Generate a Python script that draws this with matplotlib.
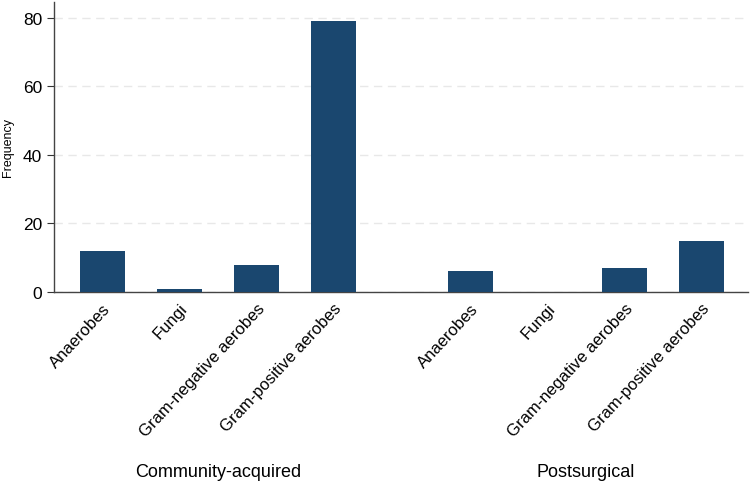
import numpy as np
import matplotlib.pyplot as plt

plt.rcParams['font.family'] = ['Liberation Sans', 'DejaVu Sans']

categories = ['Anaerobes', 'Fungi', 'Gram-negative aerobes', 'Gram-positive aerobes']
groups = ['Community-acquired', 'Postsurgical']
community = [12, 1, 8, 79]
postsurgical = [6, 0, 7, 15]
yticks = [0, 20, 40, 60, 80]

bar_color = '#1a476f'
gap = 1.78

fig = plt.figure(figsize=(7.5, 4.85), dpi=100)
ax = fig.add_axes([0.072, 0.396, 0.925, 0.598])

x1 = np.arange(len(categories))
x2 = x1 + len(categories) + gap - 1
ax.bar(x1, community, width=0.59, color=bar_color, zorder=3)
ax.bar(x2, postsurgical, width=0.59, color=bar_color, zorder=3)

ax.set_xlim(-0.63, 8.38)
ax.set_ylim(0, 84.6)
ax.set_yticks(yticks)
ax.tick_params(axis='y', labelsize=12.5, length=5, color='#333333')
ax.set_ylabel('Frequency', fontsize=9)
ax.yaxis.set_label_coords(-0.058, 0.5)
ax.yaxis.grid(True, linestyle=(0, (6, 4)), color='#e8e8e8', lw=1, zorder=0)

xs = np.concatenate([x1, x2])
ax.set_xticks(xs)
ax.set_xticklabels(categories * 2, rotation=47, ha='right',
                   rotation_mode='anchor', fontsize=12)
ax.tick_params(axis='x', length=0, pad=6)

for s in ['top', 'right']:
    ax.spines[s].set_visible(False)
for s in ['left', 'bottom']:
    ax.spines[s].set_color('#444444')
    ax.spines[s].set_linewidth(1)

# group labels under the rotated tick labels
for name, xx in zip(groups, [x1, x2]):
    ax.text(xx.mean(), -0.62, name, transform=ax.get_xaxis_transform(),
            ha='center', va='center', fontsize=13)

fig.savefig('out.png', dpi=100)
